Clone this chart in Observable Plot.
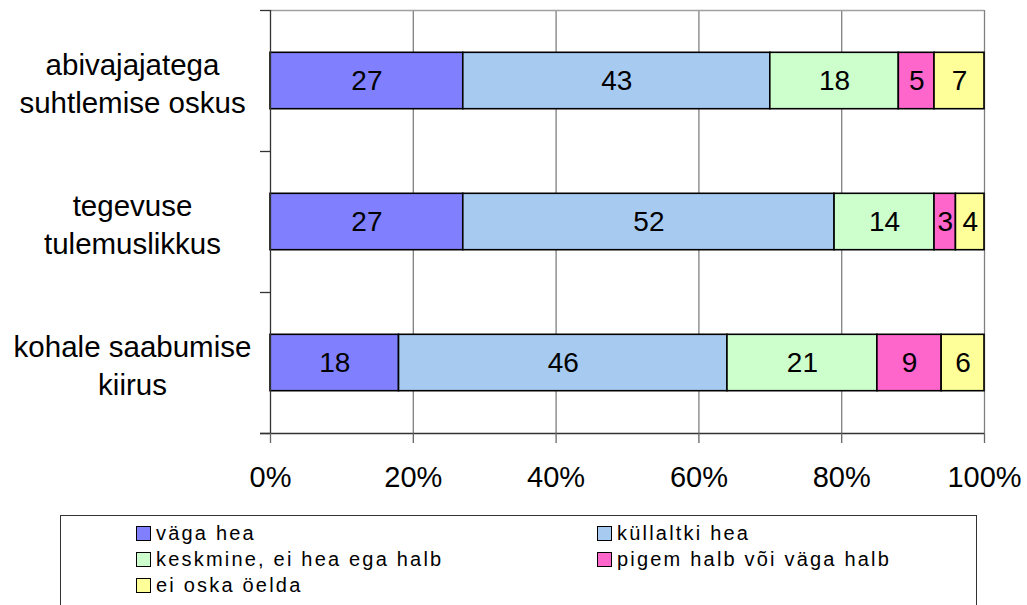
<!DOCTYPE html>
<html>
<head>
<meta charset="utf-8">
<script src="https://cdn.jsdelivr.net/npm/d3@7"></script>
<script src="https://cdn.jsdelivr.net/npm/@observablehq/plot@0.6"></script>
<style>
  html, body { margin: 0; padding: 0; background: #fff; }
  body { width: 1027px; height: 605px; overflow: hidden; font-family: "Liberation Sans", Arial, sans-serif; }
  #legend {
    margin-left: 60px; margin-top: 10px;
    width: 917px; height: 110px; box-sizing: border-box;
    border: 1px solid #333; position: relative;
    font-size: 20px; letter-spacing: 2.2px; color: #000;
  }
  .item { position: absolute; display: flex; align-items: center; white-space: nowrap; }
  .sw { width: 15px; height: 15px; border: 1.5px solid #000; margin-right: 5px; box-sizing: border-box; }
</style>
</head>
<body>
<div id="chart"></div>
<div id="legend"></div>
<script>
const categories = ["abivajajatega\nsuhtlemise oskus", "tegevuse\ntulemuslikkus", "kohale saabumise\nkiirus"];
const seriesNames = ["väga hea", "küllaltki hea", "keskmine, ei hea ega halb", "pigem halb või väga halb", "ei oska öelda"];
const vagaHea       = [27, 27, 18];
const kullaltkiHea  = [43, 52, 46];
const keskmine      = [18, 14, 21];
const pigemHalb     = [5, 3, 9];
const eiOska        = [7, 4, 6];
const colors = ["#8080FF", "#A6CAF0", "#CCFFCC", "#FF66CC", "#FFFF99"];
const xTicks = [0, 20, 40, 60, 80, 100];

const seriesValues = [vagaHea, kullaltkiHea, keskmine, pigemHalb, eiOska];
const rows = [];
categories.forEach((cat, i) => {
  let acc = 0;
  seriesValues.forEach((vals, s) => {
    const v = vals[i];
    rows.push({cat, i, series: seriesNames[s], value: v, x1: acc, x2: acc + v});
    acc += v;
  });
});

const font = '"Liberation Sans", Arial, sans-serif';
const chart = Plot.plot({
  width: 1027,
  height: 505,
  marginLeft: 270,
  marginRight: 43,
  marginTop: 10,
  marginBottom: 72,
  style: {fontFamily: font, background: "#fff", color: "#000"},
  x: {domain: [0, 100], ticks: xTicks},
  y: {domain: [0, 3], reverse: true},
  color: {domain: seriesNames, range: colors},
  marks: [
    Plot.gridX([20, 40, 60, 80, 100], {stroke: "#808080", strokeOpacity: 1, strokeWidth: 1.3}),
    Plot.ruleY([0], {stroke: "#a0a0a0", strokeWidth: 1.3}),
    Plot.rectX(rows, {
      x1: "x1", x2: "x2",
      y1: d => d.i + 0.3, y2: d => d.i + 0.7,
      fill: "series", stroke: "#000", strokeWidth: 1.6
    }),
    Plot.text(rows, {
      x: d => (d.x1 + d.x2) / 2, y: d => d.i + 0.5,
      text: d => String(d.value), fontSize: 28, fill: "#000"
    }),
    Plot.text(categories, {
      x: () => 0, y: (d, i) => i + 0.5, text: d => d,
      dx: -138, dy: 1, textAnchor: "middle", fontSize: 29.5, lineHeight: 1.3, fill: "#000"
    }),
    Plot.ruleX([0], {stroke: "#333", strokeWidth: 1.3}),
    Plot.ruleY([3], {stroke: "#333", strokeWidth: 1.3, insetLeft: -10}),
    Plot.axisY([0, 1, 2, 3], {tickSize: 10, tickFormat: () => "", stroke: "#333", strokeWidth: 1.3}),
    Plot.axisX(xTicks, {
      tickSize: 10, tickPadding: 23, tickFormat: d => d + "%",
      fontSize: 29, stroke: "#666", strokeWidth: 1.3, fill: "#000"
    })
  ]
});
document.getElementById("chart").appendChild(chart);

// legend
const legend = document.getElementById("legend");
const pos = [[75, 6], [536, 6], [75, 32], [536, 32], [75, 58]];
seriesNames.forEach((name, s) => {
  const it = document.createElement("div");
  it.className = "item";
  it.style.left = pos[s][0] + "px";
  it.style.top = pos[s][1] + "px";
  const sw = document.createElement("span");
  sw.className = "sw";
  sw.style.background = colors[s];
  const t = document.createElement("span");
  t.textContent = name;
  it.appendChild(sw);
  it.appendChild(t);
  legend.appendChild(it);
});
</script>
</body>
</html>
